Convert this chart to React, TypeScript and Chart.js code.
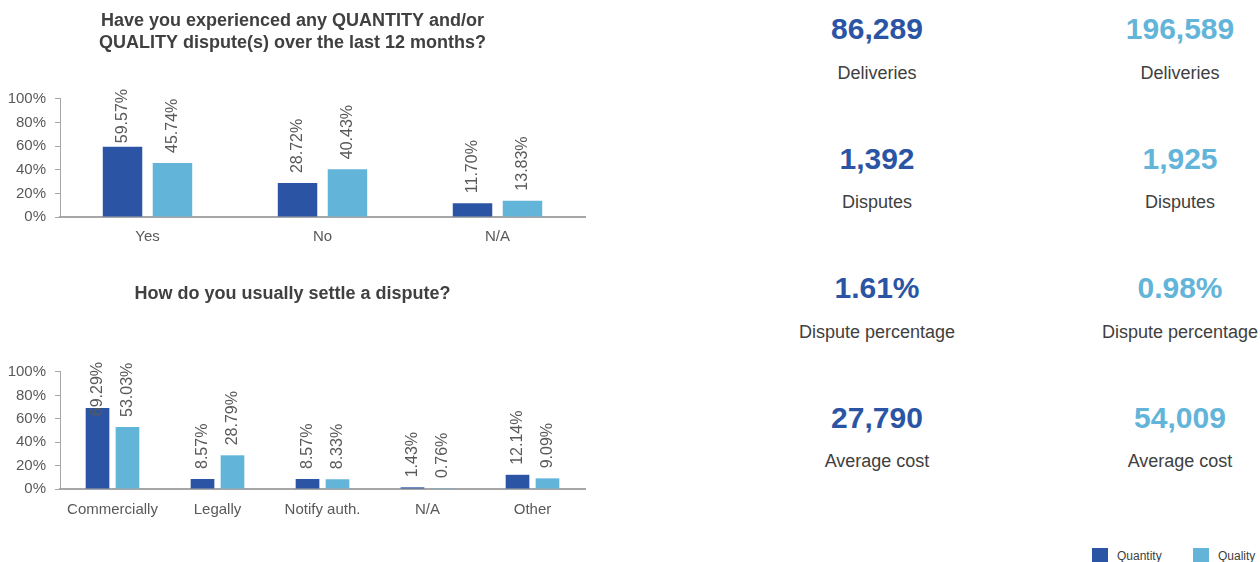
import React, { useEffect, useRef } from "react";
import { Chart, registerables } from "chart.js";

Chart.register(...registerables);

const FONT = '"Liberation Sans", Arial, sans-serif';
const DARK = "#2B55A4";
const LIGHT = "#63B4D9";
const TEXT = "#404040";
const TICK = "#595959";

const seriesNames = ["Quantity", "Quality"];

const q1Title = ["Have you experienced any QUANTITY and/or", "QUALITY dispute(s) over the last 12 months?"];
const q1Categories = ["Yes", "No", "N/A"];
const q1Quantity = [59.57, 28.72, 11.7];
const q1Quality = [45.74, 40.43, 13.83];

const q2Title = "How do you usually settle a dispute?";
const q2Categories = ["Commercially", "Legally", "Notify auth.", "N/A", "Other"];
const q2Quantity = [69.29, 8.57, 8.57, 1.43, 12.14];
const q2Quality = [53.03, 28.79, 8.33, 0.76, 9.09];

const yTicks = [0, 20, 40, 60, 80, 100];

const kpiLabels = ["Deliveries", "Disputes", "Dispute percentage", "Average cost"];
const kpiQuantity = ["86,289", "1,392", "1.61%", "27,790"];
const kpiQuality = ["196,589", "1,925", "0.98%", "54,009"];

const barLabelPlugin = {
  id: "barLabels",
  afterDatasetsDraw(chart: any) {
    const ctx = chart.ctx;
    const area = chart.chartArea;
    ctx.save();
    ctx.font = `16px ${FONT}`;
    ctx.fillStyle = TICK;
    ctx.textAlign = "left";
    ctx.textBaseline = "middle";
    chart.data.datasets.forEach((ds: any, di: number) => {
      const meta = chart.getDatasetMeta(di);
      meta.data.forEach((bar: any, i: number) => {
        const v = ds.data[i];
        const text = v.toFixed(2) + "%";
        const w = ctx.measureText(text).width;
        let bottom = bar.y - 10;
        const minTop = area.top - 10;
        if (bottom - w < minTop) bottom = minTop + w;
        ctx.save();
        ctx.translate(bar.x, bottom);
        ctx.rotate(-Math.PI / 2);
        ctx.fillText(text, 0, 0);
        ctx.restore();
      });
    });
    ctx.restore();
  },
};

function makeConfig(
  categories: string[],
  quantity: number[],
  quality: number[],
  title: string | string[],
  titlePad: { top: number; bottom: number },
  tickPad: number,
  bottomPad: number
): any {
  return {
    type: "bar",
    data: {
      labels: categories,
      datasets: [
        { label: seriesNames[0], data: quantity, backgroundColor: DARK, categoryPercentage: 0.571, barPercentage: 0.79 },
        { label: seriesNames[1], data: quality, backgroundColor: LIGHT, categoryPercentage: 0.571, barPercentage: 0.79 },
      ],
    },
    options: {
      responsive: false,
      animation: false,
      devicePixelRatio: 1,
      layout: { padding: { left: 0, right: 15, top: 0, bottom: bottomPad } },
      plugins: {
        legend: { display: false },
        tooltip: { enabled: false },
        title: {
          display: true,
          text: title,
          color: TEXT,
          font: { family: FONT, size: 18, weight: "bold", lineHeight: 1.22 },
          padding: titlePad,
        },
      },
      scales: {
        x: {
          grid: { display: false, drawTicks: false },
          border: { display: true, color: "#A6A6A6", width: 2 },
          ticks: { color: TICK, padding: tickPad, font: { family: FONT, size: 15 } },
        },
        y: {
          min: 0,
          max: 100,
          afterFit: (s: any) => {
            s.width = 60;
          },
          afterBuildTicks: (s: any) => {
            s.ticks = yTicks.map((v) => ({ value: v }));
          },
          grid: { display: true, drawOnChartArea: false, drawTicks: true, tickLength: 5, color: "#A6A6A6" },
          border: { display: true, color: "#A6A6A6", width: 1 },
          ticks: {
            color: TICK,
            padding: 9,
            font: { family: FONT, size: 15 },
            callback: (v: any) => v + "%",
          },
        },
      },
    },
    plugins: [barLabelPlugin],
  };
}

function BarChart(props: { config: any; width: number; height: number; left: number; top: number }) {
  const ref = useRef<HTMLCanvasElement>(null);
  useEffect(() => {
    if (!ref.current) return;
    const chart = new Chart(ref.current, props.config);
    return () => chart.destroy();
  }, []);
  return (
    <canvas
      ref={ref}
      width={props.width}
      height={props.height}
      style={{ position: "absolute", left: props.left, top: props.top, width: props.width, height: props.height }}
    />
  );
}

export default function App() {
  const cfg1 = makeConfig(q1Categories, q1Quantity, q1Quality, q1Title, { top: 10, bottom: 45 }, 11, 5);
  const cfg2 = makeConfig(q2Categories, q2Quantity, q2Quality, q2Title, { top: 13, bottom: 67 }, 12, 12);

  const kpiCols = [
    { center: 877, color: DARK, values: kpiQuantity },
    { center: 1180, color: LIGHT, values: kpiQuality },
  ];

  return (
    <div
      style={{
        position: "absolute",
        left: 0,
        top: 0,
        width: 1260,
        height: 562,
        overflow: "hidden",
        background: "#fff",
        fontFamily: FONT,
      }}
    >
      <BarChart config={cfg1} width={600} height={262} left={0} top={0} />
      <BarChart config={cfg2} width={600} height={273} left={0} top={270} />

      {kpiCols.map((col, ci) =>
        col.values.map((val, i) => (
          <React.Fragment key={ci + "-" + i}>
            <div
              style={{
                position: "absolute",
                left: col.center - 150,
                width: 300,
                top: 18 + 129.5 * i - 3.9,
                textAlign: "center",
                fontSize: 30,
                lineHeight: "30px",
                fontWeight: "bold",
                color: col.color,
                whiteSpace: "nowrap",
              }}
            >
              {val}
            </div>
            <div
              style={{
                position: "absolute",
                left: col.center - 150,
                width: 300,
                top: 66 + 129.5 * i - 2.35,
                textAlign: "center",
                fontSize: 18,
                lineHeight: "18px",
                color: TEXT,
                whiteSpace: "nowrap",
              }}
            >
              {kpiLabels[i]}
            </div>
          </React.Fragment>
        ))
      )}

      {[
        { name: seriesNames[0], color: DARK, sq: 1092, tx: 1117 },
        { name: seriesNames[1], color: LIGHT, sq: 1193, tx: 1218 },
      ].map((l) => (
        <React.Fragment key={l.name}>
          <div style={{ position: "absolute", left: l.sq, top: 548, width: 16, height: 16, background: l.color }} />
          <div
            style={{
              position: "absolute",
              left: l.tx,
              top: 549,
              fontSize: 12,
              lineHeight: "14px",
              color: TEXT,
              whiteSpace: "nowrap",
            }}
          >
            {l.name}
          </div>
        </React.Fragment>
      ))}
    </div>
  );
}
